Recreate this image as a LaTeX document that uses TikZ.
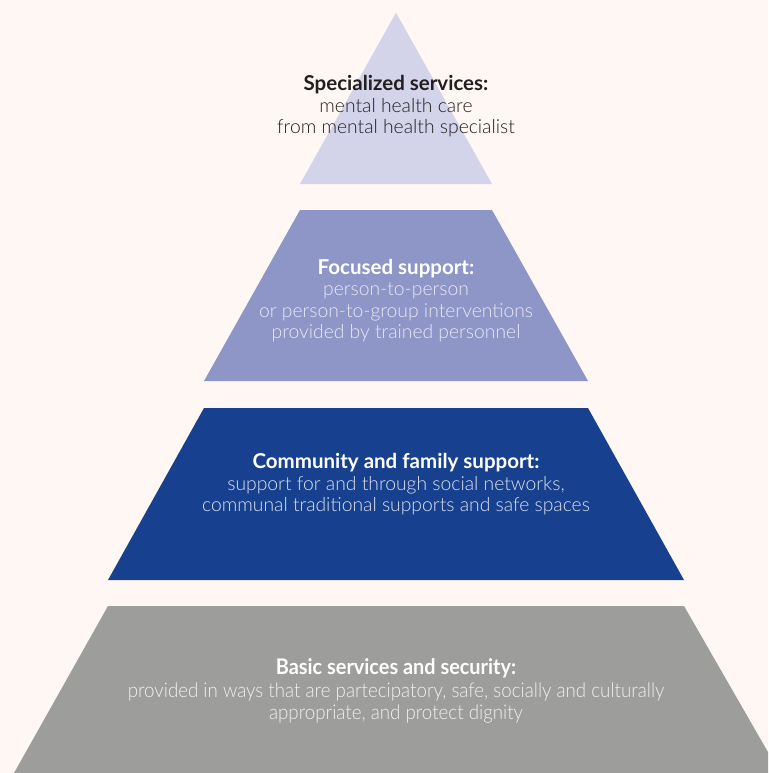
\documentclass[tikz,border=0pt]{standalone}
\usepackage{fontspec}
\setmainfont{Lato}[UprightFont=* Light, BoldFont=* Bold]
\definecolor{bgc}{HTML}{FEF7F3}
\definecolor{tierA}{HTML}{D3D3EA}
\definecolor{tierB}{HTML}{8D96C7}
\definecolor{tierC}{HTML}{17418F}
\definecolor{tierD}{HTML}{9D9D9B}
\definecolor{darktxt}{HTML}{231F20}
\definecolor{lightB}{HTML}{E8E9F5}
\definecolor{lightC}{HTML}{DCE1EE}
\definecolor{lightD}{HTML}{F0F0EE}
\newcommand{\tiertitle}[1]{{\fontsize{20.5}{21.5}\selectfont\bfseries #1}}
\tikzset{
  tiertext/.style={align=center, inner sep=0pt, font=\fontsize{19.3}{21.5}\selectfont},
}
\begin{document}
\begin{tikzpicture}[x=1pt,y=-1pt]
\fill[bgc] (0,0) rectangle (768,773);
\useasboundingbox (0,0) rectangle (768,773);
\clip (0,0) rectangle (768,773);
\fill[tierA] (396,12.7) -- (492,184) -- (300,184) -- cycle;
\fill[tierB] (300,210) -- (492,210) -- (588,381) -- (204,381) -- cycle;
\fill[tierC] (204,408) -- (588,408) -- (684,580) -- (108,580) -- cycle;
\fill[tierD] (108,606) -- (684,606) -- (780,773) -- (14,773) -- cycle;
\node[tiertext, text=darktxt] (ta) at (396,106.5)
  {\tiertitle{Specialized services:}\\mental health care\\from mental health specialist};
\node[tiertext, text=lightB] (tb) at (396,300.5)
  {\textcolor{white}{\tiertitle{Focused support:}}\\person-to-person\\or person-to-group interventions\\provided by trained personnel};
\node[tiertext, text=lightC] (tc) at (396,484.5)
  {\textcolor{white}{\tiertitle{Community and family support:}}\\support for and through social networks,\\communal traditional supports and safe spaces};
\node[tiertext, text=lightD, xscale=0.97, yscale=1.05, transform shape] (td) at (396,691)
  {\textcolor{white}{\tiertitle{Basic services and security:}}\\provided in ways that are partecipatory, safe, socially and culturally\\appropriate, and protect dignity};
\end{tikzpicture}
\end{document}
